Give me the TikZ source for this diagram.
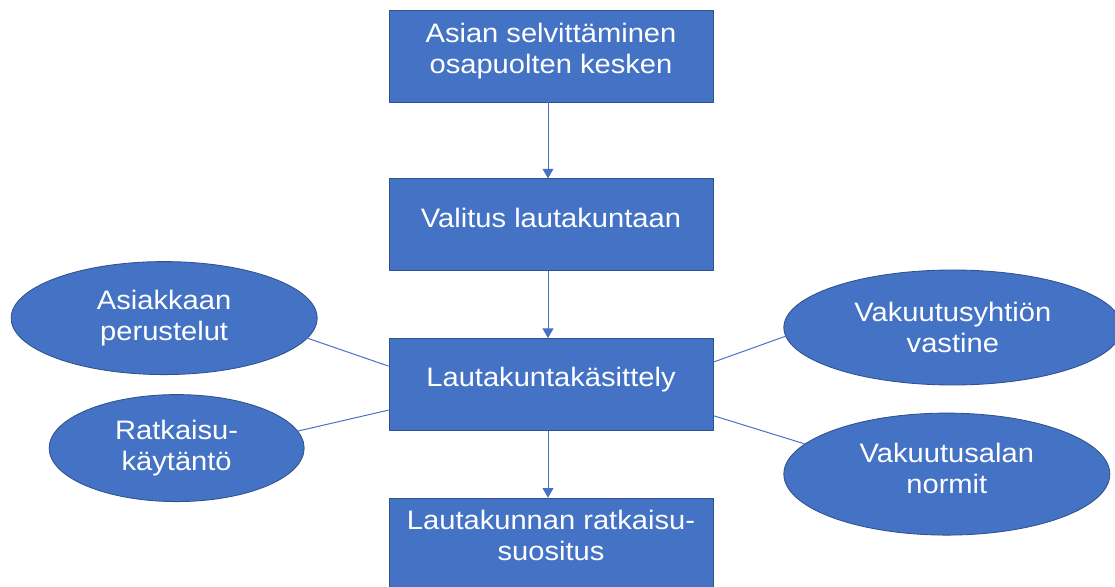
\documentclass[tikz,border=0pt]{standalone}
\usepackage{fontspec}
\setmainfont{Liberation Sans}[FakeStretch=1.09]
\usepackage{xcolor}
\usepackage{tikz}
\usetikzlibrary{arrows.meta,positioning,shapes.geometric}

\definecolor{officeblue}{HTML}{4472C4}
\definecolor{officeline}{HTML}{2F528F}

\begin{document}
\begin{tikzpicture}[
  font=\fontsize{19}{22}\selectfont,
  >={Triangle[width=0.27cm,length=0.24cm]},
  phase/.style={draw=officeline, fill=officeblue, text=white, align=center,
    minimum width=8.1cm, minimum height=2.3cm, inner sep=0pt, line width=0.6pt,
    text height=0.475cm, text depth=0.35cm},
  source/.style={ellipse, draw=officeline, fill=officeblue, text=white, align=center,
    inner sep=0pt, line width=0.6pt},
  flow/.style={->, draw=officeblue, line width=0.7pt},
  link/.style={draw=officeblue, line width=0.7pt}
]
\path[use as bounding box, clip] (0,0) rectangle (27.875,-14.65);

\node[phase, text height=1.225cm, text depth=0.375cm] (selvitys) at (13.775,-1.4) {Asian selvittäminen\\osapuolten kesken};
\node[phase, below=1.9cm of selvitys] (valitus) {Valitus lautakuntaan};
\node[phase, below=1.67cm of valitus] (kasittely) {Lautakuntakäsittely};
\node[phase, below=1.67cm of kasittely, text height=1.275cm, text depth=0.475cm] (suositus) {Lautakunnan ratkaisu-\\suositus};

\node[source, minimum width=7.65cm, minimum height=2.825cm, left=1.775cm of kasittely, yshift=1.66cm] (asiakas) {Asiakkaan\\perustelut};
\node[source, minimum width=6.375cm, minimum height=2.675cm, left=2.1cm of kasittely, yshift=-1.59cm] (kaytanto) {Ratkaisu-\\käytäntö};
\node[source, minimum width=8.45cm, minimum height=2.875cm, right=1.75cm of kasittely, yshift=1.425cm] (vastine) {Vakuutusyhtiön\\vastine};
\node[source, minimum width=8.15cm, minimum height=3.05cm, right=1.75cm of kasittely, yshift=-2.24cm,
  text height=1.25cm, text depth=0.3cm] (normit) {Vakuutusalan\\normit};

\draw[flow] ([xshift=-0.075cm]selvitys.south) -- ([xshift=-0.075cm]valitus.north);
\draw[flow] ([xshift=-0.075cm]valitus.south) -- ([xshift=-0.075cm]kasittely.north);
\draw[flow] ([xshift=-0.075cm]kasittely.south) -- ([xshift=-0.075cm]suositus.north);

\draw[link] (asiakas.-8) -- ([yshift=0.46cm]kasittely.west);
\draw[link] (kaytanto.8) -- ([yshift=-0.64cm]kasittely.west);
\draw[link] (vastine.183) -- ([yshift=0.56cm]kasittely.east);
\draw[link] (normit.168) -- ([yshift=-0.78cm]kasittely.east);
\end{tikzpicture}
\end{document}
